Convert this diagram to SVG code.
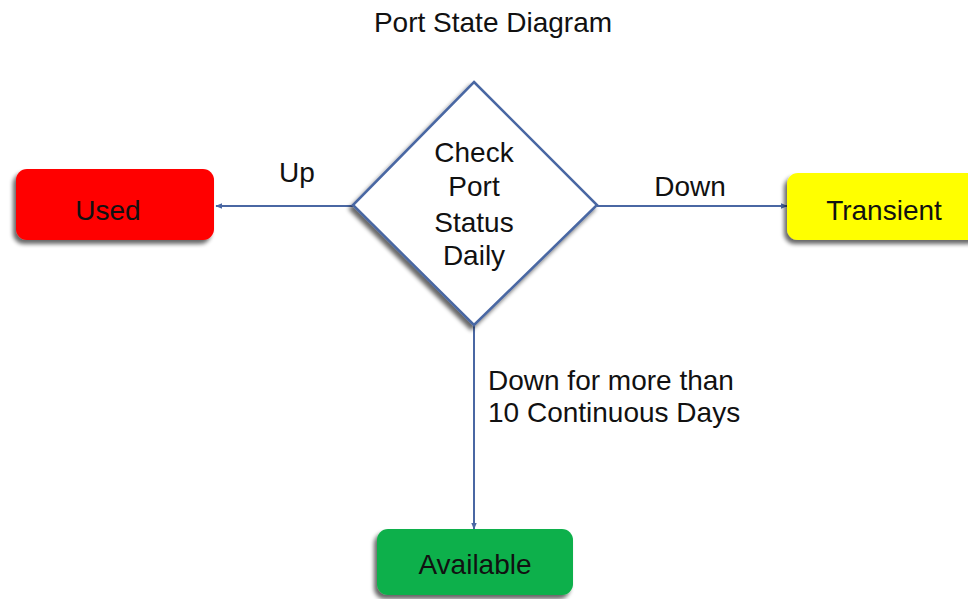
<svg xmlns="http://www.w3.org/2000/svg" width="968" height="599" viewBox="0 0 968 599">
<defs>
<style>
text{font-family:"Liberation Sans",Arial,sans-serif;fill:#111;}
.lbl{font-size:28px;}
.nt{font-size:28px;text-anchor:middle;}
.box{stroke:none;}
.edge{stroke:#4a67a3;stroke-width:2;fill:none;marker-end:url(#ah);}
</style>
<marker id="ah" viewBox="0 0 10 10" refX="9" refY="5" markerWidth="7" markerHeight="7" orient="auto" markerUnits="userSpaceOnUse">
<path d="M0,1 L10,5 L0,9 z" fill="#4a67a3"/>
</marker>
<filter id="sh" x="-10%" y="-10%" width="125%" height="130%">
<feGaussianBlur in="SourceAlpha" stdDeviation="2"/>
<feOffset dx="-3" dy="4" result="b"/>
<feComponentTransfer><feFuncA type="linear" slope="0.6"/></feComponentTransfer>
<feMerge><feMergeNode/><feMergeNode in="SourceGraphic"/></feMerge>
</filter>
</defs>
<rect width="968" height="599" fill="#fff"/>
<text x="493" y="32" class="lbl" text-anchor="middle">Port State Diagram</text>
<g id="connectors">
<line class="edge" x1="353" y1="206" x2="216" y2="206"/>
<line class="edge" x1="597" y1="206" x2="787" y2="206"/>
<line class="edge" x1="474" y1="325" x2="474" y2="529"/>
<text x="297" y="182" class="lbl" text-anchor="middle">Up</text>
<text x="690" y="196" class="lbl" text-anchor="middle">Down</text>
<text x="488" y="390" class="lbl">Down for more than</text>
<text x="488" y="422" class="lbl">10 Continuous Days</text>
</g>
<g id="check">
<polygon points="474,82 597,205 474,325 353,205" fill="#fff" stroke="#4a67a3" stroke-width="2.5" filter="url(#sh)"/>
<text x="474" y="162" class="nt">Check</text>
<text x="474" y="196" class="nt">Port</text>
<text x="474" y="232" class="nt">Status</text>
<text x="474" y="265" class="nt">Daily</text>
</g>
<g id="used">
<rect class="box" x="16" y="169" width="198" height="71" rx="11" fill="#ff0000" filter="url(#sh)"/>
<text x="108" y="220" class="nt">Used</text>
</g>
<g id="transient">
<rect class="box" x="787" y="173" width="195" height="67" rx="11" fill="#ffff00" filter="url(#sh)"/>
<text x="884" y="220" class="nt">Transient</text>
</g>
<g id="available">
<rect class="box" x="377" y="529" width="196" height="66" rx="11" fill="#11b04b" filter="url(#sh)"/>
<text x="475" y="574" class="nt">Available</text>
</g>
</svg>
